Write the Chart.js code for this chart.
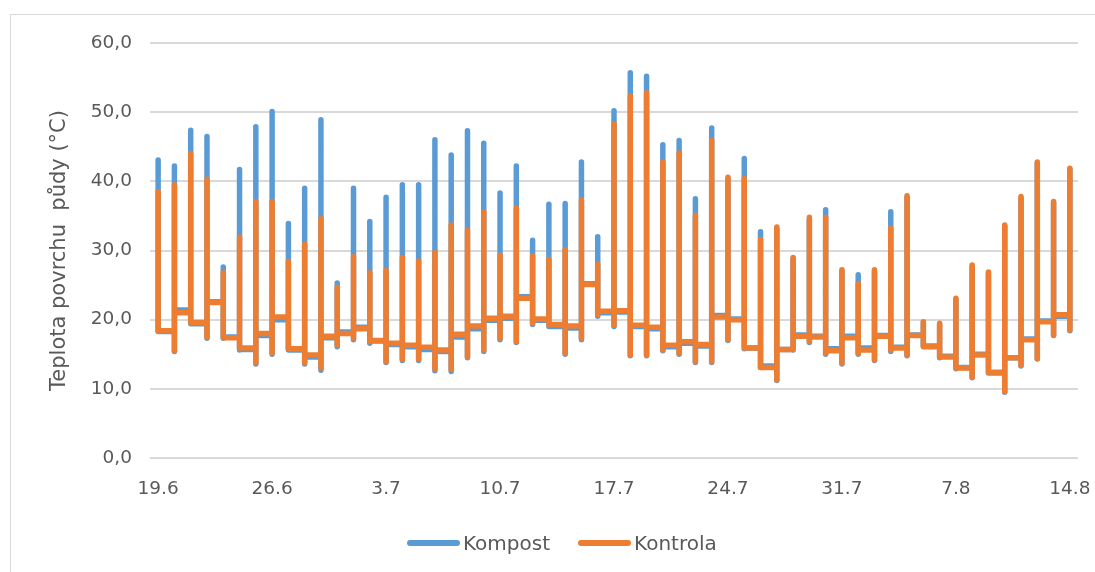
<!DOCTYPE html>
<html>
<head>
<meta charset="utf-8">
<script src="https://cdn.jsdelivr.net/npm/chart.js@4.4.0/dist/chart.umd.min.js"></script>
<style>
html,body{margin:0;padding:0;background:#fff;width:1095px;height:572px;overflow:hidden;}
#frame{position:absolute;left:10px;top:14px;width:1200px;height:700px;border:1px solid #d9d9d9;box-sizing:border-box;}
#wrap{position:absolute;left:0;top:0;width:1095px;height:572px;}
#legend{position:absolute;left:407px;top:531px;height:24px;display:flex;align-items:center;font-family:'DejaVu Sans',sans-serif;font-size:20px;color:#595959;white-space:nowrap;}
#legend .item{display:flex;align-items:center;margin-right:28px;}
#legend .sw{display:inline-block;width:53px;height:6px;border-radius:3px;margin-right:3px;}
</style>
</head>
<body>
<div id="frame"></div>
<div id="wrap"><canvas id="c" width="1095" height="572"></canvas></div>
<div id="legend"></div>
<script>
// ---- data ----
const xTickLabels = ['19.6','26.6','3.7','10.7','17.7','24.7','31.7','7.8','14.8'];
const yTickLabels = ['0,0','10,0','20,0','30,0','40,0','50,0','60,0'];
const seriesNames = ['Kompost','Kontrola'];
const axisTitle = 'Teplota povrchu  půdy (°C)';

// Daily values (19.6 … 14.8): lowest, highest and closing value of each day
const kompostLow  = [18.5,15.4,19.4,17.3,17.3,15.6,13.6,15.0,15.6,13.6,12.7,16.1,17.1,16.6,13.8,14.1,14.1,12.6,12.5,14.5,15.4,17.1,16.7,19.3,19.0,15.0,17.1,20.5,19.0,14.8,14.8,15.5,15.0,13.8,13.8,17.0,15.8,13.1,11.2,15.6,16.7,15.0,13.6,15.0,14.1,15.4,14.8,17.6,14.5,12.9,11.6,14.8,9.5,13.3,14.3,17.7,18.4];
const kompostHigh = [43.1,42.2,47.4,46.5,27.6,41.7,47.9,50.1,33.9,39.0,48.9,25.3,39.0,34.2,37.7,39.5,39.5,46.0,43.8,47.3,45.5,38.3,42.2,31.5,36.7,36.8,42.8,32.0,50.2,55.7,55.2,45.3,45.9,37.5,47.7,40.3,43.3,32.7,33.1,28.8,34.5,35.9,27.0,26.5,27.0,35.6,37.7,19.6,19.3,22.9,27.7,26.7,33.5,37.6,42.6,36.9,41.7];
const kompostEnd  = [18.3,21.4,19.4,22.6,17.5,15.7,17.7,20.0,15.6,14.6,17.4,18.2,18.9,16.9,16.4,16.1,15.7,15.4,17.5,18.7,19.9,20.2,23.3,19.9,19.0,18.8,25.2,21.0,21.1,19.0,18.7,16.1,16.6,16.2,20.6,20.1,15.9,13.3,15.7,17.8,17.6,15.8,17.6,15.9,17.7,16.0,17.8,16.2,14.7,13.1,15.0,12.3,14.5,17.2,19.8,20.5,18.4];

const kontrolaLow  = [18.7,15.5,19.7,17.5,17.4,15.9,13.8,15.2,15.8,13.8,13.0,16.3,17.3,16.8,13.9,14.3,14.3,12.9,12.8,14.6,15.6,17.3,16.8,19.5,19.3,15.1,17.3,20.7,19.2,14.9,14.9,15.6,15.1,13.9,13.9,17.1,15.9,13.2,11.3,15.7,16.8,15.1,13.7,15.1,14.2,15.6,14.9,17.7,14.6,13.0,11.7,14.9,9.6,13.4,14.4,17.8,18.5];
const kontrolaHigh = [38.5,39.5,44.0,40.3,26.8,31.9,37.1,37.1,28.4,30.9,34.6,24.7,29.1,26.8,27.1,29.0,28.5,29.7,33.7,32.9,35.6,29.3,36.1,29.2,28.7,30.1,37.3,28.0,48.3,52.3,52.8,42.8,44.1,35.1,45.9,40.6,40.4,31.6,33.4,29.0,34.8,34.8,27.2,25.2,27.2,33.2,37.9,19.7,19.5,23.1,27.9,26.9,33.7,37.8,42.8,37.1,41.9];
const kontrolaEnd  = [18.4,21.0,19.6,22.5,17.4,15.9,18.0,20.4,15.8,14.9,17.6,18.0,18.7,17.0,16.6,16.3,16.0,15.6,17.9,19.1,20.2,20.5,23.1,20.1,19.3,19.1,25.1,21.2,21.3,19.2,18.9,16.3,16.8,16.4,20.4,20.0,15.9,13.1,15.7,17.6,17.5,15.5,17.4,15.6,17.6,15.9,17.7,16.1,14.6,13.0,14.9,12.4,14.5,17.1,19.7,20.7,18.5];

const colors = ['#5B9BD5','#ED7D31'];

// all readings of one day share the day's x position
function buildPoints(low, high, end) {
  const pts = [];
  for (let i = 0; i < low.length; i++) {
    if (i > 0) pts.push({x: i, y: end[i - 1]});
    pts.push({x: i, y: low[i]}, {x: i, y: high[i]}, {x: i, y: end[i]});
  }
  return pts;
}

const FONT = "'DejaVu Sans', sans-serif";
const TXT = '#595959';

const ds = (name, pts, color, order) => ({
  label: name, data: pts, borderColor: color, backgroundColor: color,
  borderWidth: 5.5, pointRadius: 0, pointHoverRadius: 0, tension: 0,
  borderCapStyle: 'round', borderJoinStyle: 'round', order: order
});

new Chart(document.getElementById('c'), {
  type: 'line',
  data: {
    datasets: [
      ds(seriesNames[0], buildPoints(kompostLow, kompostHigh, kompostEnd), colors[0], 2),
      ds(seriesNames[1], buildPoints(kontrolaLow, kontrolaHigh, kontrolaEnd), colors[1], 1)
    ]
  },
  options: {
    responsive: false,
    animation: false,
    layout: {padding: {left: 0, right: 17, top: 43, bottom: 74}},
    plugins: {legend: {display: false}, tooltip: {enabled: false}},
    scales: {
      x: {
        type: 'linear', min: -0.5, max: kontrolaLow.length - 0.5,
        grid: {display: false, drawTicks: false},
        border: {display: false},
        afterBuildTicks: s => { s.ticks = xTickLabels.map((_, i) => ({value: i * 7})); },
        afterFit: s => { s.height = 40; s.paddingLeft = 0; s.paddingRight = 0; },
        ticks: {
          padding: 20, color: TXT, font: {family: FONT, size: 18.5},
          maxRotation: 0, autoSkip: false,
          callback: v => xTickLabels[Math.round(v / 7)]
        }
      },
      y: {
        min: 0, max: 60,
        afterBuildTicks: s => { s.ticks = yTickLabels.map((_, i) => ({value: i * 10})); },
        afterFit: s => { s.width = 150; },
        grid: {color: '#d9d9d9', lineWidth: 2, drawTicks: false},
        border: {display: false},
        ticks: {
          padding: 18, color: TXT, font: {family: FONT, size: 18.5},
          callback: v => yTickLabels[Math.round(v / 10)]
        },
        title: {
          display: true, text: axisTitle, color: TXT,
          font: {family: FONT, size: 21}, padding: {top: 47, bottom: 0}
        }
      }
    }
  }
});

// legend as real HTML text
const leg = document.getElementById('legend');
seriesNames.forEach((n, i) => {
  const it = document.createElement('span'); it.className = 'item';
  const sw = document.createElement('span'); sw.className = 'sw'; sw.style.background = colors[i];
  const tx = document.createElement('span'); tx.textContent = n;
  it.appendChild(sw); it.appendChild(tx); leg.appendChild(it);
});
</script>
</body>
</html>
